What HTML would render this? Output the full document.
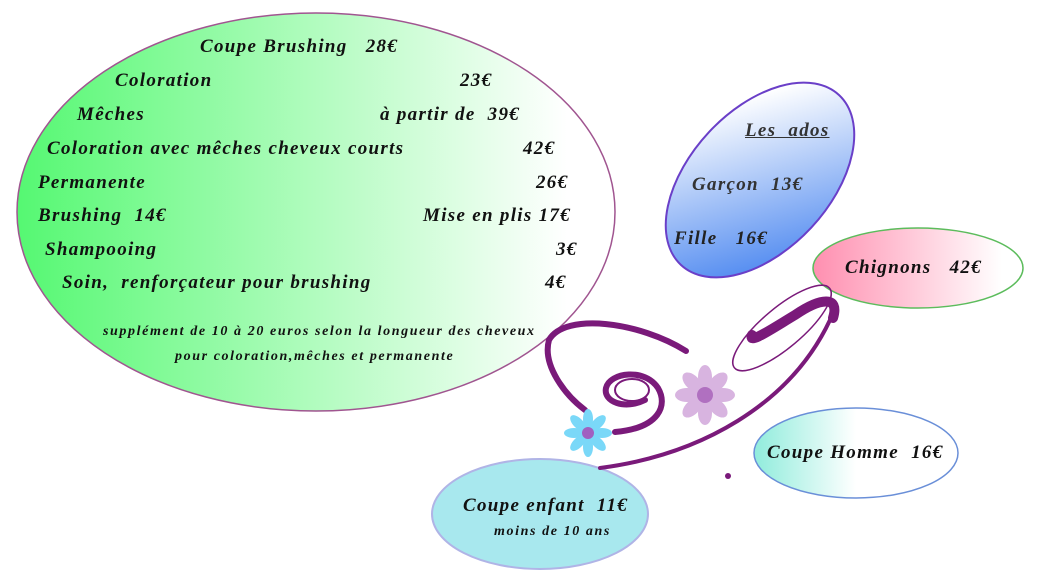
<!DOCTYPE html>
<html><head><meta charset="utf-8"><style>
body{margin:0;width:1037px;height:582px;background:#fff;overflow:hidden;position:relative;font-family:"Liberation Serif",serif;font-style:italic;font-weight:bold;}
.t{position:absolute;white-space:nowrap;color:#111;font-size:19px;letter-spacing:1.3px;}
.s{font-size:14px;letter-spacing:1.6px;}
</style></head><body>
<svg width="1037" height="582" style="position:absolute;left:0;top:0">
<defs>
<linearGradient id="g1" x1="0" x2="1" y1="0" y2="0"><stop offset="0" stop-color="#55f872"/><stop offset="0.92" stop-color="#ffffff"/></linearGradient>
<linearGradient id="g2" x1="0" x2="1" y1="1" y2="0"><stop offset="0" stop-color="#3578ee"/><stop offset="0.85" stop-color="#ffffff"/></linearGradient>
<linearGradient id="g3" x1="0" x2="1"><stop offset="0" stop-color="#ff8fb0"/><stop offset="0.9" stop-color="#fff"/></linearGradient>
<linearGradient id="g4" x1="0" x2="1"><stop offset="0" stop-color="#90ecdc"/><stop offset="0.5" stop-color="#fff"/></linearGradient>
</defs>
<ellipse cx="316" cy="212" rx="299" ry="199" fill="url(#g1)" stroke="#a05590" stroke-width="1.5"/>
<ellipse cx="760" cy="180" rx="116" ry="70" transform="rotate(-47 760 180)" fill="url(#g2)" stroke="#6a3fc8" stroke-width="2"/>
<ellipse cx="918" cy="268" rx="105" ry="40" fill="url(#g3)" stroke="#5cbc5c" stroke-width="1.5"/>
<ellipse cx="856" cy="453" rx="102" ry="45" fill="url(#g4)" stroke="#6a8fd8" stroke-width="1.5"/>
<ellipse cx="540" cy="514" rx="108" ry="55" fill="#a8e8ee" stroke="#b0b4e6" stroke-width="2"/>
<g fill="none" stroke="#7a1a7a" stroke-linecap="round">
<path d="M686,351 C640,322 565,312 549,340 C542,365 565,395 585,410" stroke-width="6"/>
<path d="M615,432 C660,428 668,405 658,388 C645,368 610,372 606,388 C603,402 625,410 645,400" stroke-width="6"/>
<ellipse cx="632" cy="390" rx="17" ry="11" stroke-width="2"/>
<path d="M600,468 C700,455 790,405 830,320" stroke-width="4"/>
<path d="M833,318 C840,295 820,298 795,315 C770,330 748,345 752,335" stroke-width="10"/>
<ellipse cx="782" cy="328" rx="62" ry="20" transform="rotate(-40 782 328)" stroke-width="1.5"/>
</g>
<circle cx="728" cy="476" r="3" fill="#7a1a7a"/>
<g transform="translate(705,395)" fill="#d8b4e0">
<ellipse cx="0" cy="-18" rx="7" ry="12"/><ellipse cx="0" cy="-18" rx="7" ry="12" transform="rotate(45)"/><ellipse cx="0" cy="-18" rx="7" ry="12" transform="rotate(90)"/><ellipse cx="0" cy="-18" rx="7" ry="12" transform="rotate(135)"/><ellipse cx="0" cy="-18" rx="7" ry="12" transform="rotate(180)"/><ellipse cx="0" cy="-18" rx="7" ry="12" transform="rotate(225)"/><ellipse cx="0" cy="-18" rx="7" ry="12" transform="rotate(270)"/><ellipse cx="0" cy="-18" rx="7" ry="12" transform="rotate(315)"/>
<circle r="8" fill="#b070c0"/></g>
<g transform="translate(588,433)" fill="#7ad8f8">
<ellipse cx="0" cy="-14" rx="5" ry="10"/><ellipse cx="0" cy="-14" rx="5" ry="10" transform="rotate(45)"/><ellipse cx="0" cy="-14" rx="5" ry="10" transform="rotate(90)"/><ellipse cx="0" cy="-14" rx="5" ry="10" transform="rotate(135)"/><ellipse cx="0" cy="-14" rx="5" ry="10" transform="rotate(180)"/><ellipse cx="0" cy="-14" rx="5" ry="10" transform="rotate(225)"/><ellipse cx="0" cy="-14" rx="5" ry="10" transform="rotate(270)"/><ellipse cx="0" cy="-14" rx="5" ry="10" transform="rotate(315)"/>
<circle r="6" fill="#a060c0"/></g>
</svg>
<div class="t" style="left:200px;top:36px">Coupe Brushing &nbsp;&nbsp;28€</div>
<div class="t" style="left:115px;top:70px">Coloration</div><div class="t" style="left:460px;top:70px">23€</div>
<div class="t" style="left:77px;top:104px">Mêches</div><div class="t" style="left:380px;top:104px">à partir de &nbsp;39€</div>
<div class="t" style="left:47px;top:138px">Coloration avec mêches cheveux courts</div><div class="t" style="left:523px;top:138px">42€</div>
<div class="t" style="left:38px;top:172px">Permanente</div><div class="t" style="left:536px;top:172px">26€</div>
<div class="t" style="left:38px;top:205px">Brushing &nbsp;14€</div><div class="t" style="left:423px;top:205px">Mise en plis 17€</div>
<div class="t" style="left:45px;top:239px">Shampooing</div><div class="t" style="left:556px;top:239px">3€</div>
<div class="t" style="left:62px;top:272px">Soin, &nbsp;renforçateur pour brushing</div><div class="t" style="left:545px;top:272px">4€</div>
<div class="t s" style="left:103px;top:324px">supplément de 10 à 20 euros selon la longueur des cheveux</div>
<div class="t s" style="left:175px;top:349px">pour coloration,mêches et permanente</div>
<div class="t" style="left:745px;top:120px;text-decoration:underline;color:#333">Les &nbsp;ados</div>
<div class="t" style="left:692px;top:174px;color:#333">Garçon &nbsp;13€</div>
<div class="t" style="left:674px;top:228px;color:#222">Fille &nbsp;&nbsp;16€</div>
<div class="t" style="left:845px;top:257px">Chignons &nbsp;&nbsp;42€</div>
<div class="t" style="left:767px;top:442px">Coupe Homme &nbsp;16€</div>
<div class="t" style="left:463px;top:495px">Coupe enfant &nbsp;11€</div>
<div class="t s" style="left:494px;top:524px">moins de 10 ans</div>
</body></html>
